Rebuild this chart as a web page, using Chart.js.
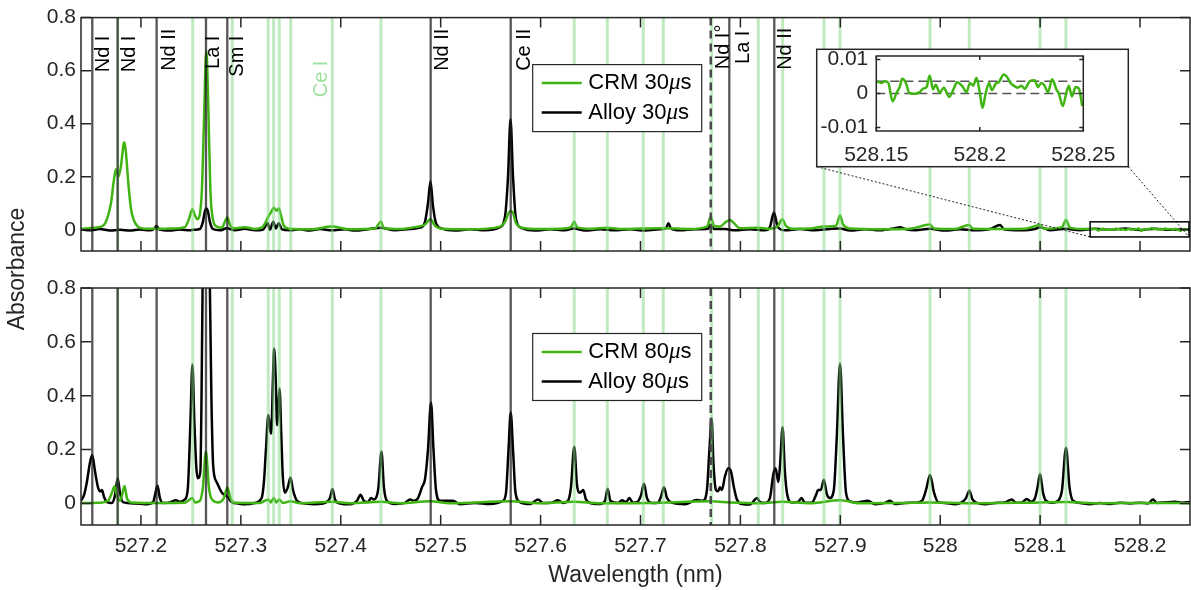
<!DOCTYPE html>
<html>
<head>
<meta charset="utf-8">
<title>Absorbance spectra</title>
<script src="https://cdn.jsdelivr.net/npm/chart.js@4.4.1/dist/chart.umd.min.js"></script>
<style>
  html, body { margin: 0; padding: 0; background: #fff; }
  #wrap { position: relative; width: 1191px; height: 590px; }
  #wrap canvas { position: absolute; left: 0; top: 0; }
</style>
</head>
<body>
<div id="wrap">
  <canvas id="topChart" width="1191" height="590"></canvas>
  <canvas id="bottomChart" width="1191" height="590"></canvas>
  <canvas id="insetChart" width="1191" height="590"></canvas>
</div>
<script>
// spectra.js - CRM vs alloy absorbance, 30 and 80 us gate delays

// axis ticks
const xTicks = [527.2, 527.3, 527.4, 527.5, 527.6, 527.7, 527.8, 527.9, 528.0, 528.1, 528.2];
const xTickLabels = ['527.2', '527.3', '527.4', '527.5', '527.6', '527.7', '527.8', '527.9', '528', '528.1', '528.2'];
const yTicks = [0, 0.2, 0.4, 0.6, 0.8];
const yTickLabels = ['0', '0.2', '0.4', '0.6', '0.8'];
const insetXTicks = [528.15, 528.2, 528.25];
const insetXTickLabels = ['528.15', '528.2', '528.25'];
const insetYTicks = [-0.01, 0, 0.01];
const insetYTickLabels = ['-0.01', '0', '0.01'];

// reference lines (nm)
const ceLines = [527.1767, 527.2518, 527.2914, 527.3274, 527.3328, 527.3384, 527.3499, 527.3915, 527.4402,
  527.6337, 527.6668, 527.7028, 527.7228, 527.7712, 527.8179, 527.8423, 527.8837, 527.8997,
  527.9898, 528.0291, 528.0999, 528.1259];
const darkLines = [527.1513, 527.1767, 527.2157, 527.2651, 527.2864, 527.4900, 527.5701, 527.7889, 527.8339];
const dashedLines = [527.7703];
const lineLabels = ['Nd I', 'Nd I', 'Nd II', 'La I', 'Sm I', 'Nd II', 'Ce II', 'Nd I\u00B0', 'La I', 'Nd II'];
const lineLabelX = [527.1513, 527.1767, 527.2157, 527.2651, 527.2864, 527.4900, 527.5701, 527.7703, 527.7889, 527.8339];
const ceLabel = 'Ce I';
const ceLabelX = 527.3915;

// inset levels and zoom window
const insetLevels = [0, 0.0036];
const zoomBoxX = [528.15, 528.25];
const zoomBoxY = [-0.027, 0.03];

// CRM 30us (top), main part
const crm30X = [527.1399, 527.1540, 527.1620, 527.1660, 527.1700, 527.1730, 527.1750, 527.1775, 527.1800, 527.1825,
  527.1835, 527.1850, 527.1875, 527.1900, 527.1930, 527.1970, 527.2040, 527.2190, 527.2340, 527.2440,
  527.2480, 527.2515, 527.2540, 527.2565, 527.2590, 527.2610, 527.2630, 527.2655, 527.2675, 527.2695,
  527.2720, 527.2760, 527.2810, 527.2845, 527.2865, 527.2890, 527.2930, 527.3040, 527.3140, 527.3210,
  527.3250, 527.3275, 527.3300, 527.3330, 527.3355, 527.3380, 527.3405, 527.3430, 527.3490, 527.3700,
  527.3912, 527.4092, 527.4342, 527.4402, 527.4432, 527.4593, 527.4743, 527.4843, 527.4898, 527.4943,
  527.5013, 527.5293, 527.5594, 527.5644, 527.5694, 527.5714, 527.5754, 527.5814, 527.5994, 527.6194,
  527.6304, 527.6337, 527.6364, 527.6494, 527.6664, 527.6795, 527.7025, 527.7225, 527.7495, 527.7665,
  527.7705, 527.7735, 527.7795, 527.7855, 527.7895, 527.7935, 527.7995, 527.8175, 527.8295, 527.8375,
  527.8420, 527.8455, 527.8515, 527.8697, 527.8837, 527.8957, 527.8997, 527.9027, 527.9097, 527.9397,
  527.9698, 527.9898, 527.9938, 528.0148, 528.0288, 528.0328, 528.0599, 528.0849, 528.0999, 528.1039,
  528.1219, 528.1259, 528.1299, 528.1420];
const crm30Y = [0.004, 0.008, 0.015, 0.04, 0.10, 0.19, 0.228, 0.20, 0.24, 0.32,
  0.33, 0.29, 0.17, 0.08, 0.035, 0.012, 0.004, 0.004, 0.005, 0.01,
  0.04, 0.077, 0.055, 0.04, 0.06, 0.15, 0.40, 0.675, 0.45, 0.15,
  0.04, 0.012, 0.008, 0.035, 0.047, 0.02, 0.006, 0.01, 0.003, 0.008,
  0.03, 0.05, 0.065, 0.083, 0.072, 0.08, 0.05, 0.015, 0.004, 0.002,
  0.012, 0.002, 0.005, 0.03, 0.006, 0.003, 0.01, 0.02, 0.04, 0.015,
  0.004, 0.002, 0.012, 0.03, 0.07, 0.07, 0.025, 0.008, 0.003, 0.004,
  0.01, 0.03, 0.01, 0.004, 0.008, 0.003, 0.005, 0.006, 0.003, 0.012,
  0.05, 0.015, 0.012, 0.03, 0.037, 0.025, 0.006, 0.008, 0.004, 0.015,
  0.04, 0.015, 0.004, 0.005, 0.012, 0.015, 0.055, 0.02, 0.005, 0.002,
  0.004, 0.02, 0.005, 0.003, 0.018, 0.004, 0.003, 0.004, 0.018, 0.004,
  0.01, 0.037, 0.008, 0.003];

// CRM 30us, 528.15-528.25 nm (shown in the inset)
const insetX = [528.1500, 528.1526, 528.1542, 528.1558, 528.1579, 528.1598, 528.1614, 528.1625, 528.1643, 528.1659,
  528.1686, 528.1710, 528.1726, 528.1743, 528.1758, 528.1774, 528.1787, 528.1807, 528.1826, 528.1852,
  528.1874, 528.1890, 528.1916, 528.1936, 528.1952, 528.1968, 528.1984, 528.2000, 528.2013, 528.2029,
  528.2045, 528.2058, 528.2077, 528.2093, 528.2115, 528.2131, 528.2148, 528.2164, 528.2184, 528.2201,
  528.2217, 528.2241, 528.2265, 528.2281, 528.2297, 528.2313, 528.2329, 528.2350, 528.2370, 528.2382,
  528.2401, 528.2418, 528.2430, 528.2445, 528.2463, 528.2479, 528.2495];
const insetY = [0.0036, 0.0031, 0.0036, 0.0031, -0.0023, 0.0002, 0.0021, 0.0043, 0.0031, 0.0002,
  -0.0001, 0.0004, 0.0014, 0.0019, 0.0053, 0.0012, 0.0026, 0.0002, 0.0017, -0.0010,
  0.0014, 0.0033, 0.0021, 0.0004, 0.0031, 0.0023, 0.0046, 0.0002, -0.0042, 0.0002,
  0.0031, 0.0010, 0.0029, 0.0034, 0.0056, 0.0049, 0.0031, 0.0023, 0.0017, 0.0023,
  0.0014, 0.0036, 0.0039, 0.0019, 0.0031, 0.0023, 0.0004, 0.0042, 0.0012, 0.0000,
  -0.0037, 0.0002, 0.0023, -0.0008, 0.0019, 0.0014, -0.0037];

// Alloy 30us (top)
const alloy30X = [527.1399, 527.1489, 527.1589, 527.1690, 527.1790, 527.1890, 527.1990, 527.2090, 527.2130, 527.2157,
  527.2180, 527.2290, 527.2390, 527.2490, 527.2530, 527.2590, 527.2620, 527.2640, 527.2655, 527.2670,
  527.2690, 527.2720, 527.2790, 527.2860, 527.2940, 527.3040, 527.3140, 527.3220, 527.3270, 527.3290,
  527.3325, 527.3350, 527.3380, 527.3410, 527.3490, 527.3590, 527.3690, 527.3792, 527.3912, 527.4042,
  527.4142, 527.4272, 527.4402, 527.4542, 527.4693, 527.4793, 527.4843, 527.4873, 527.4898, 527.4923,
  527.4953, 527.5013, 527.5143, 527.5293, 527.5443, 527.5594, 527.5644, 527.5674, 527.5699, 527.5724,
  527.5754, 527.5814, 527.5944, 527.6094, 527.6244, 527.6334, 527.6444, 527.6595, 527.6745, 527.6895,
  527.7045, 527.7195, 527.7255, 527.7280, 527.7305, 527.7395, 527.7545, 527.7675, 527.7705, 527.7735,
  527.7845, 527.7945, 527.8095, 527.8245, 527.8295, 527.8335, 527.8375, 527.8445, 527.8597, 527.8747,
  527.8897, 527.8997, 527.9097, 527.9247, 527.9397, 527.9547, 527.9598, 527.9648, 527.9748, 527.9898,
  528.0048, 528.0198, 528.0348, 528.0499, 528.0599, 528.0639, 528.0799, 528.0949, 528.0999, 528.1099,
  528.1249, 528.1399, 528.1550, 528.1700, 528.1850, 528.2000, 528.2150, 528.2300, 528.2500];
const alloy30Y = [0.002, -0.002, 0.003, -0.003, 0.000, -0.003, 0.001, -0.002, 0.003, 0.014,
  0.002, -0.003, 0.001, -0.002, 0.000, 0.003, 0.03, 0.07, 0.08, 0.07,
  0.03, 0.003, -0.002, 0.006, -0.002, 0.004, -0.002, 0.000, 0.025, 0.000,
  0.03, 0.005, 0.025, 0.002, -0.002, 0.002, -0.003, 0.003, -0.002, 0.002,
  -0.003, 0.002, 0.008, -0.002, 0.003, 0.008, 0.03, 0.10, 0.183, 0.09,
  0.025, 0.004, -0.003, 0.002, -0.002, 0.01, 0.05, 0.20, 0.417, 0.20,
  0.04, 0.006, -0.003, 0.002, -0.002, 0.005, -0.003, 0.002, -0.002, 0.002,
  -0.003, 0.002, 0.006, 0.025, 0.005, -0.002, 0.002, 0.004, 0.02, 0.003,
  0.003, -0.002, 0.002, -0.002, 0.01, 0.065, 0.01, -0.002, 0.003, -0.002,
  0.003, 0.005, -0.003, 0.002, -0.002, 0.006, 0.01, 0.003, -0.002, 0.004,
  -0.003, 0.002, -0.002, 0.003, 0.018, 0.002, -0.002, 0.003, 0.01, -0.002,
  0.004, -0.002, 0.004, 0.000, 0.005, -0.001, 0.004, 0.000, 0.003];

// CRM 80us (bottom)
const crm80X = [527.1399, 527.1589, 527.1670, 527.1710, 527.1735, 527.1760, 527.1790, 527.1810, 527.1835, 527.1860,
  527.1900, 527.2190, 527.2440, 527.2515, 527.2540, 527.2590, 527.2620, 527.2650, 527.2680, 527.2710,
  527.2770, 527.2830, 527.2865, 527.2895, 527.2940, 527.3191, 527.3274, 527.3300, 527.3328, 527.3355,
  527.3384, 527.3420, 527.3497, 527.3592, 527.3912, 527.4092, 527.4402, 527.4593, 527.4898, 527.5093,
  527.5699, 527.5994, 527.6334, 527.6595, 527.7095, 527.7705, 527.7895, 527.8195, 527.8420, 527.8697,
  527.8997, 527.9197, 527.9598, 527.9898, 528.0298, 528.0999, 528.1259, 528.1600, 528.2100, 528.2500];
const crm80Y = [0.002, 0.003, 0.01, 0.04, 0.063, 0.03, 0.01, 0.03, 0.065, 0.02,
  0.004, 0.002, 0.003, 0.02, 0.004, 0.01, 0.06, 0.193, 0.06, 0.015,
  0.004, 0.02, 0.06, 0.02, 0.003, 0.002, 0.015, 0.004, 0.02, 0.004,
  0.015, 0.002, 0.008, 0.001, 0.006, 0.001, 0.006, 0.001, 0.008, 0.001,
  0.008, 0.001, 0.006, 0.001, 0.002, 0.008, 0.004, 0.001, 0.006, 0.001,
  0.012, 0.001, 0.002, 0.004, 0.001, 0.004, 0.005, 0.001, 0.002, 0.001];

// Alloy 80us (bottom)
const alloy80X = [527.1399, 527.1429, 527.1459, 527.1489, 527.1512, 527.1540, 527.1570, 527.1595, 527.1610, 527.1630,
  527.1660, 527.1710, 527.1740, 527.1767, 527.1790, 527.1820, 527.1940, 527.2040, 527.2120, 527.2140,
  527.2165, 527.2190, 527.2220, 527.2290, 527.2350, 527.2390, 527.2440, 527.2470, 527.2495, 527.2515,
  527.2535, 527.2555, 527.2570, 527.2595, 527.2605, 527.2617, 527.2653, 527.2690, 527.2705, 527.2723,
  527.2757, 527.2810, 527.2865, 527.2910, 527.2971, 527.3041, 527.3141, 527.3208, 527.3231, 527.3251,
  527.3275, 527.3295, 527.3305, 527.3320, 527.3333, 527.3350, 527.3363, 527.3375, 527.3387, 527.3405,
  527.3420, 527.3440, 527.3470, 527.3497, 527.3522, 527.3562, 527.3642, 527.3742, 527.3842, 527.3892,
  527.3917, 527.3942, 527.3992, 527.4092, 527.4162, 527.4197, 527.4232, 527.4272, 527.4302, 527.4332,
  527.4352, 527.4377, 527.4407, 527.4432, 527.4462, 527.4542, 527.4642, 527.4693, 527.4733, 527.4773,
  527.4813, 527.4843, 527.4873, 527.4903, 527.4928, 527.4953, 527.4993, 527.5123, 527.5193, 527.5343,
  527.5493, 527.5624, 527.5654, 527.5679, 527.5701, 527.5724, 527.5749, 527.5794, 527.5894, 527.5974,
  527.6024, 527.6114, 527.6174, 527.6224, 527.6274, 527.6304, 527.6337, 527.6364, 527.6394, 527.6427,
  527.6454, 527.6514, 527.6595, 527.6645, 527.6671, 527.6699, 527.6775, 527.6815, 527.6855, 527.6888,
  527.6925, 527.6965, 527.7005, 527.7035, 527.7065, 527.7115, 527.7175, 527.7205, 527.7235, 527.7265,
  527.7315, 527.7445, 527.7562, 527.7625, 527.7665, 527.7690, 527.7712, 527.7730, 527.7755, 527.7775,
  527.7795, 527.7815, 527.7845, 527.7878, 527.7905, 527.7935, 527.7965, 527.8015, 527.8095, 527.8168,
  527.8195, 527.8245, 527.8295, 527.8330, 527.8352, 527.8380, 527.8398, 527.8422, 527.8445, 527.8470,
  527.8515, 527.8575, 527.8612, 527.8645, 527.8715, 527.8755, 527.8778, 527.8805, 527.8835, 527.8865,
  527.8895, 527.8935, 527.8965, 527.8997, 527.9027, 527.9057, 527.9097, 527.9177, 527.9277, 527.9347,
  527.9447, 527.9497, 527.9547, 527.9648, 527.9748, 527.9818, 527.9858, 527.9898, 527.9938, 527.9978,
  528.0048, 528.0148, 528.0218, 528.0258, 528.0291, 528.0323, 528.0368, 528.0448, 528.0549, 528.0649,
  528.0716, 528.0759, 528.0819, 528.0866, 528.0909, 528.0949, 528.0974, 528.0999, 528.1029, 528.1059,
  528.1119, 528.1179, 528.1219, 528.1259, 528.1294, 528.1329, 528.1399, 528.1500, 528.1600, 528.1700,
  528.1800, 528.1900, 528.2000, 528.2080, 528.2130, 528.2170, 528.2250, 528.2350, 528.2420, 528.2500];
const alloy80Y = [0.01, 0.03, 0.08, 0.15, 0.18, 0.12, 0.06, 0.045, 0.05, 0.025,
  0.005, 0.002, 0.03, 0.094, 0.04, 0.005, 0.000, -0.003, 0.004, 0.03,
  0.067, 0.02, 0.002, 0.004, 0.012, 0.006, 0.015, 0.06, 0.30, 0.516,
  0.30, 0.13, 0.094, 0.12, 0.35, 0.80, 1.60, 0.80, 0.40, 0.14,
  0.08, 0.04, 0.025, 0.005, 0.000, -0.003, 0.002, 0.02, 0.08, 0.20,
  0.328, 0.27, 0.26, 0.45, 0.575, 0.45, 0.29, 0.35, 0.427, 0.25,
  0.10, 0.04, 0.06, 0.096, 0.05, 0.01, 0.000, -0.003, 0.002, 0.02,
  0.054, 0.015, 0.000, -0.003, 0.01, 0.032, 0.01, 0.005, 0.02, 0.015,
  0.02, 0.06, 0.193, 0.06, 0.01, -0.002, 0.002, 0.015, 0.01, 0.02,
  0.06, 0.09, 0.20, 0.375, 0.20, 0.05, 0.01, 0.01, -0.003, 0.002,
  -0.002, 0.01, 0.04, 0.20, 0.338, 0.20, 0.04, 0.005, -0.002, 0.015,
  0.002, 0.003, 0.012, 0.002, 0.01, 0.06, 0.211, 0.07, 0.04, 0.05,
  0.015, 0.000, -0.002, 0.01, 0.055, 0.01, 0.002, 0.012, 0.005, 0.02,
  0.003, 0.005, 0.03, 0.073, 0.02, 0.002, 0.003, 0.025, 0.06, 0.02,
  0.003, -0.003, 0.013, 0.01, 0.05, 0.20, 0.316, 0.15, 0.05, 0.045,
  0.06, 0.05, 0.10, 0.131, 0.12, 0.06, 0.015, -0.002, -0.004, 0.02,
  0.005, 0.002, 0.02, 0.11, 0.131, 0.08, 0.15, 0.283, 0.12, 0.03,
  0.004, 0.005, 0.02, 0.003, 0.003, 0.03, 0.05, 0.05, 0.088, 0.035,
  0.02, 0.05, 0.25, 0.52, 0.25, 0.04, 0.008, 0.004, 0.01, -0.003,
  0.002, 0.01, -0.002, 0.002, 0.003, 0.01, 0.05, 0.106, 0.04, 0.005,
  0.002, -0.003, 0.005, 0.02, 0.047, 0.015, 0.002, -0.003, 0.002, 0.004,
  0.015, 0.003, 0.004, 0.017, 0.006, 0.02, 0.06, 0.109, 0.04, 0.01,
  0.003, 0.01, 0.05, 0.207, 0.06, 0.01, 0.002, -0.003, 0.002, -0.002,
  0.003, 0.000, 0.003, 0.000, 0.015, 0.002, 0.004, 0.006, 0.003, 0.005];

const seriesLabels = ['CRM 30\u03BCs', 'Alloy 30\u03BCs', 'CRM 80\u03BCs', 'Alloy 80\u03BCs'];

const FONT = '"Liberation Sans", Arial, Helvetica, sans-serif';
const GREEN = '#3fb413';
const AXIS = '#262626';

function pts(xs, ys) {
  return xs.map(function (x, i) { return { x: x, y: ys[i] }; });
}

function series(label, color, data) {
  return {
    label: label,
    data: data,
    borderColor: color,
    borderWidth: 2.5,
    pointRadius: 0,
    cubicInterpolationMode: 'monotone',
    fill: false
  };
}

function xAxis(min, max, ticks, labels, show, height, pad) {
  return {
    type: 'linear',
    min: min, max: max,
    display: show,
    afterBuildTicks: function (s) { s.ticks = ticks.map(function (v) { return { value: v }; }); },
    afterFit: function (s) { s.height = height; },
    grid: { display: false, drawTicks: false },
    border: { display: false },
    ticks: {
      padding: pad, color: AXIS, maxRotation: 0, autoSkip: false,
      font: { family: FONT, size: 21 },
      callback: function (v, i) { return labels[i]; }
    }
  };
}

function yAxis(min, max, ticks, labels, width, pad) {
  return {
    min: min, max: max,
    afterBuildTicks: function (s) { s.ticks = ticks.map(function (v) { return { value: v }; }); },
    afterFit: function (s) { s.width = width; },
    grid: { display: false, drawTicks: false },
    border: { display: false },
    ticks: {
      padding: pad, color: AXIS,
      font: { family: FONT, size: 21 },
      callback: function (v, i) { return labels[i]; }
    }
  };
}

// box round the plot area plus inward ticks on all four sides
function drawFrame(chart, xt, yt, len) {
  const ctx = chart.ctx, a = chart.chartArea, sx = chart.scales.x, sy = chart.scales.y;
  ctx.save();
  ctx.strokeStyle = AXIS;
  ctx.lineWidth = 1.5;
  ctx.beginPath();
  xt.forEach(function (v) {
    const px = sx.getPixelForValue(v);
    ctx.moveTo(px, a.bottom); ctx.lineTo(px, a.bottom - len);
    ctx.moveTo(px, a.top); ctx.lineTo(px, a.top + len);
  });
  yt.forEach(function (v) {
    const py = sy.getPixelForValue(v);
    ctx.moveTo(a.left, py); ctx.lineTo(a.left + len, py);
    ctx.moveTo(a.right, py); ctx.lineTo(a.right - len, py);
  });
  ctx.stroke();
  ctx.strokeRect(a.left, a.top, a.right - a.left, a.bottom - a.top);
  ctx.restore();
}

// text with the mu drawn in italic, like TeX
function drawMuText(ctx, text, x, y) {
  const parts = text.split('\u03BC');
  ctx.textBaseline = 'middle';
  ctx.textAlign = 'left';
  ctx.fillStyle = '#000';
  ctx.font = '22px ' + FONT;
  ctx.fillText(parts[0], x, y);
  x += ctx.measureText(parts[0]).width;
  if (parts.length > 1) {
    ctx.font = 'italic 23px "Liberation Serif", "DejaVu Serif", serif';
    ctx.fillText('\u03BC', x, y);
    x += ctx.measureText('\u03BC').width;
    ctx.font = '22px ' + FONT;
    ctx.fillText(parts[1], x, y);
  }
}

function drawLegend(chart, offTop) {
  const ctx = chart.ctx, a = chart.chartArea;
  const x0 = a.left + 451.7, y0 = a.top + offTop, w = 169, h = 67;
  ctx.save();
  ctx.fillStyle = '#fff';
  ctx.fillRect(x0, y0, w, h);
  ctx.strokeStyle = AXIS;
  ctx.lineWidth = 1.2;
  ctx.strokeRect(x0, y0, w, h);
  chart.data.datasets.forEach(function (ds, i) {
    const yy = y0 + 18.5 + i * 29.5;
    ctx.strokeStyle = ds.borderColor;
    ctx.lineWidth = 2.5;
    ctx.beginPath();
    ctx.moveTo(x0 + 9, yy);
    ctx.lineTo(x0 + 49, yy);
    ctx.stroke();
    drawMuText(ctx, ds.label, x0 + 55.6, yy);
  });
  ctx.restore();
}

function drawRefLines(chart) {
  const ctx = chart.ctx, a = chart.chartArea, sx = chart.scales.x;
  ctx.save();
  ctx.beginPath();
  ctx.rect(a.left, a.top, a.right - a.left, a.bottom - a.top);
  ctx.clip();

  function vline(v) {
    const px = sx.getPixelForValue(v);
    ctx.beginPath();
    ctx.moveTo(px, a.top);
    ctx.lineTo(px, a.bottom);
    ctx.stroke();
  }
  ctx.strokeStyle = 'rgba(130,215,130,0.5)';
  ctx.lineWidth = 3;
  ceLines.forEach(vline);

  ctx.strokeStyle = 'rgba(30,30,30,0.75)';
  ctx.lineWidth = 2.3;
  darkLines.forEach(vline);

  // dashed line drawn opaque so the dashes stay grey
  ctx.strokeStyle = '#4a4a4a';
  ctx.setLineDash([8, 5]);
  ctx.lineWidth = 2.5;
  dashedLines.forEach(vline);
  ctx.restore();
}

// label shift from the line (px) and where each rotated label ends (px below the frame top)
const labelShift = [17, 17, 18, 13, 16, 17.5, 19, 18, 19.5, 17];
const labelEnd = [18, 18, 11, 18, 18, 11, 11, 7, 13, 10];

function drawLineLabels(chart) {
  const ctx = chart.ctx, a = chart.chartArea, sx = chart.scales.x;
  ctx.save();
  ctx.font = '20px ' + FONT;
  ctx.textAlign = 'right';
  ctx.textBaseline = 'alphabetic';
  function put(text, v, shift, end, color) {
    ctx.save();
    ctx.fillStyle = color;
    ctx.translate(sx.getPixelForValue(v) + shift, a.top + end);
    ctx.rotate(-Math.PI / 2);
    ctx.fillText(text, 0, 0);
    ctx.restore();
  }
  lineLabels.forEach(function (t, i) { put(t, lineLabelX[i], labelShift[i], labelEnd[i], '#000'); });
  put(ceLabel, ceLabelX, -5, 43, '#9fe09f');
  ctx.restore();
}

const topPanel = {
  id: 'topPanel',
  afterDatasetsDraw: function (chart) {
    drawRefLines(chart);
    drawLineLabels(chart);
    drawLegend(chart, 47);
    drawFrame(chart, xTicks, yTicks, 10);
  }
};

const bottomPanel = {
  id: 'bottomPanel',
  afterDatasetsDraw: function (chart) {
    drawRefLines(chart);
    drawLegend(chart, 45.5);
    drawFrame(chart, xTicks, yTicks, 10);
  },
  afterDraw: function (chart) {
    const ctx = chart.ctx, a = chart.chartArea;
    ctx.save();
    ctx.fillStyle = AXIS;
    ctx.font = '23px ' + FONT;
    ctx.textAlign = 'center';
    ctx.textBaseline = 'middle';
    ctx.fillText('Wavelength (nm)', (a.left + a.right) / 2, 576);
    ctx.translate(18, 269);
    ctx.rotate(-Math.PI / 2);
    ctx.fillText('Absorbance', 0, 0);
    ctx.restore();
  }
};

const commonOpts = {
  responsive: false,
  animation: false,
  events: [],
  plugins: { legend: { display: false }, tooltip: { enabled: false } }
};

const topChart = new Chart(document.getElementById('topChart'), {
  type: 'line',
  data: {
    datasets: [
      series(seriesLabels[0], GREEN, pts(crm30X.concat(insetX), crm30Y.concat(insetY))),
      series(seriesLabels[1], '#000', pts(alloy30X, alloy30Y))
    ]
  },
  options: Object.assign({}, commonOpts, {
    layout: { padding: { left: 0, top: 14, right: 1, bottom: 339 } },
    scales: {
      x: xAxis(527.14, 528.25, xTicks, xTickLabels, false, 0, 0),
      y: yAxis(-0.08, 0.8, yTicks, yTickLabels, 81, 5)
    }
  }),
  plugins: [topPanel]
});

const bottomChart = new Chart(document.getElementById('bottomChart'), {
  type: 'line',
  data: {
    datasets: [
      series(seriesLabels[2], GREEN, pts(crm80X, crm80Y)),
      series(seriesLabels[3], '#000', pts(alloy80X, alloy80Y))
    ]
  },
  options: Object.assign({}, commonOpts, {
    layout: { padding: { left: 0, top: 288, right: 1, bottom: 0 } },
    scales: {
      x: xAxis(527.14, 528.25, xTicks, xTickLabels, true, 65, 9),
      y: yAxis(-0.08, 0.8, yTicks, yTickLabels, 81, 5)
    }
  }),
  plugins: [bottomPanel]
});

const insetPanel = {
  id: 'insetPanel',
  beforeDraw: function (chart) {
    const ctx = chart.ctx, a = chart.chartArea;
    const tx = topChart.scales.x, ty = topChart.scales.y;
    const bx0 = a.left - 59.6, by0 = a.top - 6.7, bx1 = a.right + 45, by1 = a.bottom + 35.7;
    const zx0 = tx.getPixelForValue(zoomBoxX[0]), zx1 = tx.getPixelForValue(zoomBoxX[1]) - 1;
    const zy0 = ty.getPixelForValue(zoomBoxY[1]), zy1 = ty.getPixelForValue(zoomBoxY[0]);
    ctx.save();
    // connectors
    ctx.strokeStyle = '#222';
    ctx.lineWidth = 1;
    ctx.setLineDash([2, 2]);
    ctx.beginPath();
    ctx.moveTo(bx0, by1); ctx.lineTo(zx0, zy1);
    ctx.moveTo(bx1, by1); ctx.lineTo(zx1, zy1);
    ctx.stroke();
    ctx.setLineDash([]);
    // zoom window on the top panel
    ctx.strokeStyle = '#000';
    ctx.lineWidth = 1.5;
    ctx.strokeRect(zx0, zy0, zx1 - zx0, zy1 - zy0);
    // inset background
    ctx.fillStyle = '#fff';
    ctx.fillRect(bx0, by0, bx1 - bx0, by1 - by0);
    ctx.strokeStyle = AXIS;
    ctx.lineWidth = 1.5;
    ctx.strokeRect(bx0, by0, bx1 - bx0, by1 - by0);
    ctx.restore();
  },
  beforeDatasetsDraw: function (chart) {
    const ctx = chart.ctx, a = chart.chartArea, sy = chart.scales.y;
    ctx.save();
    ctx.strokeStyle = '#555';
    ctx.lineWidth = 1.5;
    ctx.setLineDash([9, 5]);
    insetLevels.forEach(function (v) {
      const py = sy.getPixelForValue(v);
      ctx.beginPath();
      ctx.moveTo(a.left, py);
      ctx.lineTo(a.right, py);
      ctx.stroke();
    });
    ctx.restore();
  },
  afterDatasetsDraw: function (chart) {
    drawFrame(chart, insetXTicks, insetYTicks, 4);
  }
};

const insetChart = new Chart(document.getElementById('insetChart'), {
  type: 'line',
  data: {
    datasets: [series(seriesLabels[0], GREEN, pts(insetX, insetY))]
  },
  options: Object.assign({}, commonOpts, {
    layout: { padding: { left: 816, top: 56, right: 107.7, bottom: 419 } },
    scales: {
      x: xAxis(528.15, 528.25, insetXTicks, insetXTickLabels, true, 40, 12),
      y: yAxis(-0.011, 0.011, insetYTicks, insetYTickLabels, 60.3, 8)
    }
  }),
  plugins: [insetPanel]
});
</script>
</body>
</html>
